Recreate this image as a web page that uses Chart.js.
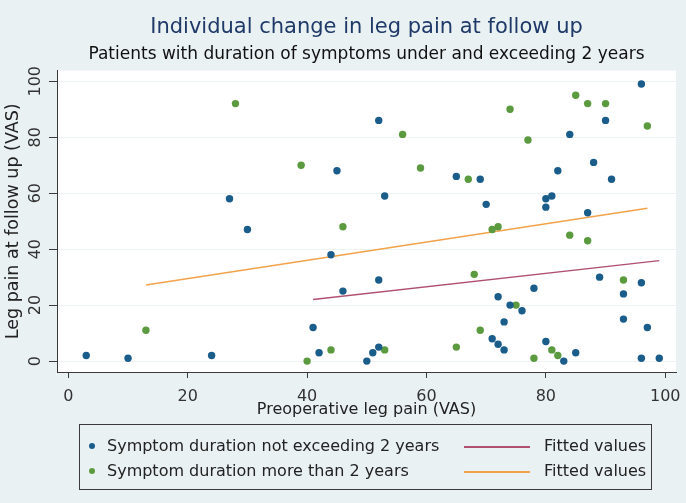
<!DOCTYPE html>
<html><head><meta charset="utf-8">
<script src="https://cdn.jsdelivr.net/npm/chart.js@4.4.1/dist/chart.umd.min.js"></script>
<style>
html,body{margin:0;padding:0;background:#eaf1f3;}
#wrap{position:relative;width:686px;height:503px;overflow:hidden;}
#c{position:absolute;left:0;top:0;}
#legend{position:absolute;left:79px;top:424px;width:573px;height:66px;border:1px solid #3a3a3a;box-sizing:border-box;
  font-family:"DejaVu Sans",sans-serif;font-size:16px;color:#222;}
.row{position:absolute;left:0;width:570px;height:20px;line-height:20px;white-space:nowrap;}
.dot{position:absolute;left:9px;top:7px;width:6px;height:6px;border-radius:50%;}
.lab{position:absolute;left:27px;}
.ln{position:absolute;left:384px;top:10px;width:66px;height:1.5px;}
.fit{position:absolute;left:464px;}
</style>
</head><body>
<div id="wrap">
<canvas id="c" width="686" height="503"></canvas>
<div id="legend">
  <div class="row" style="top:11px"><span class="dot" style="background:#1a5c8a"></span><span class="lab" id="l1"></span><span class="ln" style="background:#b0506e"></span><span class="fit" id="l2"></span></div>
  <div class="row" style="top:36px"><span class="dot" style="background:#5b9a3e"></span><span class="lab" id="l3"></span><span class="ln" style="background:#f2a24a"></span><span class="fit" id="l4"></span></div>
</div>
</div>
<script>
// ---- data ----
const xTicks = [0, 20, 40, 60, 80, 100];
const yTicks = [0, 20, 40, 60, 80, 100];

const shortX = [3, 10, 24, 27, 30, 41, 42, 44, 45, 46, 50, 51, 52, 52, 52, 53, 65, 69, 70, 71, 72, 72, 73, 73, 74, 76, 78, 80, 80, 80, 81, 82, 83, 84, 85, 87, 88, 89, 90, 91, 93, 93, 96, 96, 96, 97, 99];
const shortY = [2, 1, 2, 58, 47, 12, 3, 38, 68, 25, 0, 3, 5, 29, 86, 59, 66, 65, 56, 8, 6, 23, 4, 14, 20, 18, 26, 7, 55, 58, 59, 68, 0, 81, 3, 53, 71, 30, 86, 65, 24, 15, 99, 28, 1, 12, 1];

const longX = [13, 28, 39, 40, 44, 46, 53, 56, 59, 65, 67, 68, 69, 71, 72, 74, 75, 77, 78, 81, 82, 84, 85, 87, 87, 90, 93, 97];
const longY = [11, 92, 70, 0, 4, 48, 4, 81, 69, 5, 65, 31, 11, 47, 48, 90, 20, 79, 1, 4, 2, 45, 95, 92, 43, 92, 29, 84];

const fitShortX = [41, 99];
const fitShortY = [22.0, 35.9];
const fitLongX = [13, 97];
const fitLongY = [27.2, 54.6];

const labels = {
  title: 'Individual change in leg pain at follow up',
  subtitle: 'Patients with duration of symptoms under and exceeding 2 years',
  xTitle: 'Preoperative leg pain (VAS)',
  yTitle: 'Leg pain at follow up (VAS)',
  s1: 'Symptom duration not exceeding 2 years',
  s2: 'Symptom duration more than 2 years',
  f: 'Fitted values'
};

document.getElementById('l1').textContent = labels.s1;
document.getElementById('l2').textContent = labels.f;
document.getElementById('l3').textContent = labels.s2;
document.getElementById('l4').textContent = labels.f;

const zip = (xs, ys) => xs.map((x, i) => ({x: x, y: ys[i]}));

const plotBg = {
  id: 'plotBg',
  beforeDraw(chart) {
    const {ctx, chartArea: a} = chart;
    ctx.save();
    ctx.fillStyle = '#ffffff';
    ctx.fillRect(a.left, a.top, a.right - a.left, a.bottom - a.top);
    ctx.restore();
  }
};

const FONT = '"DejaVu Sans", sans-serif';

new Chart(document.getElementById('c'), {
  data: {
    datasets: [
      {type: 'scatter', label: labels.s1, data: zip(shortX, shortY), backgroundColor: '#1a5c8a', borderWidth: 0, pointRadius: 3.7, order: 0},
      {type: 'line', label: labels.f, data: zip(fitShortX, fitShortY), borderColor: '#b0506e', borderWidth: 1.4, pointRadius: 0, fill: false, order: 1},
      {type: 'scatter', label: labels.s2, data: zip(longX, longY), backgroundColor: '#5b9a3e', borderWidth: 0, pointRadius: 3.7, order: 0},
      {type: 'line', label: labels.f, data: zip(fitLongX, fitLongY), borderColor: '#f2a24a', borderWidth: 1.4, pointRadius: 0, fill: false, order: 1}
    ]
  },
  options: {
    responsive: false,
    animation: false,
    layout: {padding: {left: 0, right: 10, top: 2, bottom: 83}},
    plugins: {
      legend: {display: false},
      tooltip: {enabled: false},
      title: {display: true, text: labels.title, fullSize: false, color: '#1f3a68',
        font: {family: FONT, size: 21, weight: 'normal', lineHeight: 1.2}, padding: {top: 13, bottom: 3}},
      subtitle: {display: true, text: labels.subtitle, fullSize: false, color: '#111',
        font: {family: FONT, size: 17, weight: 'normal', lineHeight: 1.2}, padding: {top: 1, bottom: 6}}
    },
    scales: {
      x: {
        type: 'linear', min: -1.9, max: 101.8,
        afterBuildTicks(s) { s.ticks = xTicks.map(v => ({value: v})); },
        afterFit(s) { s.height = 48; s.paddingLeft = 0; s.paddingRight = 0; },
        border: {display: true, color: '#3a3a3a', width: 1},
        grid: {display: true, drawOnChartArea: false, drawTicks: true, tickLength: 6, tickColor: '#3a3a3a'},
        ticks: {color: '#333', font: {family: FONT, size: 16}, padding: 9, maxRotation: 0},
        title: {display: true, text: labels.xTitle, color: '#222', font: {family: FONT, size: 16, lineHeight: 1.2}, padding: {top: 0, bottom: 1}}
      },
      y: {
        type: 'linear', min: -3.9, max: 103.8,
        afterBuildTicks(s) { s.ticks = yTicks.map(v => ({value: v})); },
        afterFit(s) { s.width = 57; s.paddingTop = 0; s.paddingBottom = 0; },
        border: {display: true, color: '#3a3a3a', width: 1},
        grid: {color: '#edf2f4', lineWidth: 1, drawTicks: true, tickLength: 8, tickColor: '#3a3a3a'},
        ticks: {color: '#333', font: {family: FONT, size: 16}, padding: -2, minRotation: 90, maxRotation: 90, crossAlign: 'center'},
        title: {display: true, text: labels.yTitle, color: '#222', font: {family: FONT, size: 17.5, lineHeight: 1.2}, padding: {top: 3, bottom: 0}}
      }
    }
  },
  plugins: [plotBg]
});
</script>
</body></html>
